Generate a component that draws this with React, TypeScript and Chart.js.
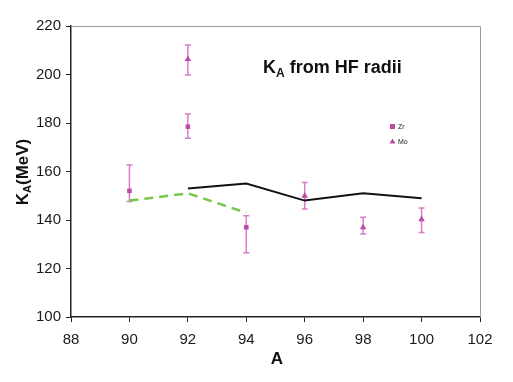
import React, { useEffect, useRef } from "react";
import { Chart, registerables } from "chart.js";
Chart.register(...registerables);

const zrA = [90, 92, 94];
const zrK = [152, 178.5, 137];
const zrErrLo = [147.6, 173.7, 126.5];
const zrErrHi = [162.7, 183.7, 141.8];

const moA = [92, 96, 98, 100];
const moK = [206.3, 150, 137, 140.3];
const moErrLo = [199.8, 144.5, 134.2, 134.8];
const moErrHi = [212.2, 155.5, 141.1, 145];

const blackA = [92, 94, 96, 98, 100];
const blackK = [153, 155, 148, 151, 149];

const greenA = [90, 92, 94];
const greenK = [148, 151, 143];

const xTicks = [88, 90, 92, 94, 96, 98, 100, 102];
const yTicks = [100, 120, 140, 160, 180, 200, 220];

const FONT = "'Liberation Sans', Arial, sans-serif";
const MARK = "#bd4aa5";
const ERR = "#d77cc8";

export default function App() {
  const ref = useRef<HTMLCanvasElement>(null);
  useEffect(() => {
    const canvas = ref.current!;
    const extras = {
      id: "extras",
      beforeDatasetsDraw(chart: any) {
        const { ctx, chartArea: ca, scales } = chart;
        const x = scales.x, y = scales.y;
        ctx.save();
        ctx.strokeStyle = "#9a9a9a";
        ctx.lineWidth = 1;
        ctx.beginPath();
        ctx.moveTo(ca.left, ca.top + 0.5);
        ctx.lineTo(ca.right + 0.5, ca.top + 0.5);
        ctx.lineTo(ca.right + 0.5, ca.bottom);
        ctx.stroke();
        ctx.strokeStyle = ERR;
        ctx.lineWidth = 1.5;
        const bars = (xs: number[], lo: number[], hi: number[]) => {
          xs.forEach((a, i) => {
            const px = x.getPixelForValue(a);
            const pl = y.getPixelForValue(lo[i]);
            const ph = y.getPixelForValue(hi[i]);
            ctx.beginPath();
            ctx.moveTo(px, pl);
            ctx.lineTo(px, ph);
            ctx.moveTo(px - 3, pl);
            ctx.lineTo(px + 3, pl);
            ctx.moveTo(px - 3, ph);
            ctx.lineTo(px + 3, ph);
            ctx.stroke();
          });
        };
        bars(zrA, zrErrLo, zrErrHi);
        bars(moA, moErrLo, moErrHi);
        ctx.restore();
      },
      afterDraw(chart: any) {
        const { ctx } = chart;
        ctx.save();
        ctx.fillStyle = "#111";
        ctx.textBaseline = "alphabetic";
        // title
        ctx.font = `bold 18px ${FONT}`;
        ctx.textAlign = "left";
        ctx.fillText("K", 263, 73);
        const w = ctx.measureText("K").width;
        ctx.font = `bold 12px ${FONT}`;
        ctx.fillText("A", 263 + w, 77);
        const w2 = ctx.measureText("A").width;
        ctx.font = `bold 18px ${FONT}`;
        ctx.fillText(" from HF radii", 263 + w + w2, 73);
        // x title
        ctx.font = `bold 17px ${FONT}`;
        ctx.textAlign = "center";
        ctx.fillText("A", 277, 364);
        ctx.textAlign = "left";
        // y title
        ctx.translate(28, 172);
        ctx.rotate(-Math.PI / 2);
        ctx.font = `bold 17px ${FONT}`;
        const t1 = "K", t3 = "(MeV)";
        const a = ctx.measureText(t1).width;
        ctx.font = `bold 11px ${FONT}`;
        const b = ctx.measureText("A").width;
        ctx.font = `bold 17px ${FONT}`;
        const c = ctx.measureText(t3).width;
        const start = -(a + b + c) / 2;
        ctx.fillText(t1, start, 0);
        ctx.font = `bold 11px ${FONT}`;
        ctx.fillText("A", start + a, 3);
        ctx.font = `bold 17px ${FONT}`;
        ctx.fillText(t3, start + a + b, 0);
        ctx.restore();
        // legend
        ctx.save();
        ctx.fillStyle = MARK;
        ctx.fillRect(390, 124, 5, 5);
        ctx.beginPath();
        ctx.moveTo(392.5, 138.5);
        ctx.lineTo(395.5, 143.5);
        ctx.lineTo(389.5, 143.5);
        ctx.closePath();
        ctx.fill();
        ctx.fillStyle = "#222";
        ctx.font = `7px ${FONT}`;
        ctx.textBaseline = "middle";
        ctx.fillText("Zr", 398, 127);
        ctx.fillText("Mo", 398, 142);
        ctx.restore();
      },
    };
    const chart = new Chart(canvas, {
      type: "scatter",
      data: {
        datasets: [
          {
            type: "line",
            data: greenA.map((a, i) => ({ x: a, y: greenK[i] })),
            borderColor: "#78c848",
            borderWidth: 2.5,
            borderDash: [9, 6],
            pointRadius: 0,
            fill: false,
          } as any,
          {
            type: "line",
            data: blackA.map((a, i) => ({ x: a, y: blackK[i] })),
            borderColor: "#111",
            borderWidth: 2,
            pointRadius: 0,
            fill: false,
          } as any,
          {
            data: zrA.map((a, i) => ({ x: a, y: zrK[i] })),
            pointStyle: "rect",
            pointRadius: 3.2,
            backgroundColor: MARK,
            borderColor: MARK,
            borderWidth: 0,
          },
          {
            data: moA.map((a, i) => ({ x: a, y: moK[i] })),
            pointStyle: "triangle",
            pointRadius: 3.8,
            backgroundColor: MARK,
            borderColor: MARK,
            borderWidth: 0,
          },
        ],
      },
      options: {
        animation: false,
        responsive: false,
        layout: { padding: { top: 26, right: 33, left: 0, bottom: 0 } },
        plugins: { legend: { display: false }, tooltip: { enabled: false } },
        scales: {
          x: {
            type: "linear",
            min: 88,
            max: 102,
            afterBuildTicks: (s: any) => {
              s.ticks = xTicks.map((v) => ({ value: v }));
            },
            afterFit: (s: any) => {
              s.height = 65;
            },
            grid: { drawOnChartArea: false, tickLength: 5, color: "#222", lineWidth: 1 },
            border: { color: "#222", width: 1.5 },
            ticks: { color: "#1a1a1a", font: { family: FONT, size: 15 }, padding: 9 },
          },
          y: {
            type: "linear",
            min: 100,
            max: 220,
            afterBuildTicks: (s: any) => {
              s.ticks = yTicks.map((v) => ({ value: v }));
            },
            afterFit: (s: any) => {
              s.width = 71;
            },
            grid: { drawOnChartArea: false, tickLength: 5, color: "#222", lineWidth: 1 },
            border: { color: "#222", width: 1.5 },
            ticks: { color: "#1a1a1a", font: { family: FONT, size: 15 }, padding: 5 },
          },
        },
      },
      plugins: [extras],
    } as any);
    return () => chart.destroy();
  }, []);
  return (
    <div style={{ position: "absolute", left: 0, top: 0, width: 513, height: 382, background: "#fff" }}>
      <canvas ref={ref} width={513} height={382} style={{ width: 513, height: 382 }} />
    </div>
  );
}
